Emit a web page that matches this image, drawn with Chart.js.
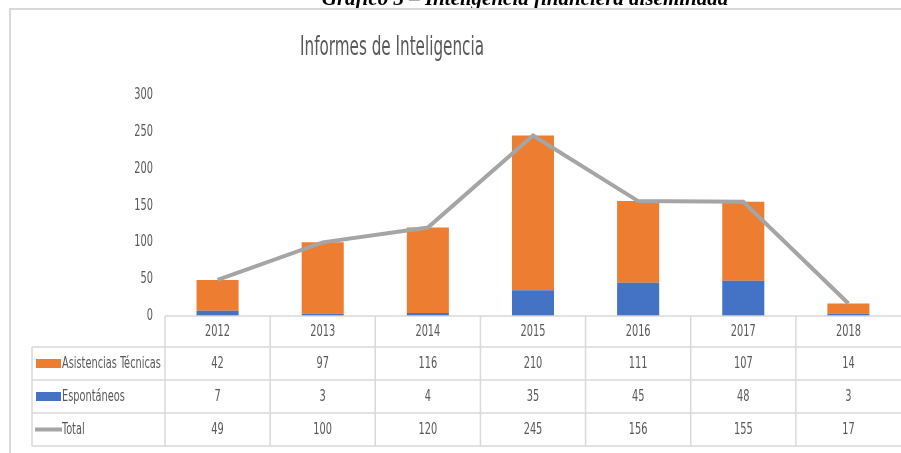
<!DOCTYPE html>
<html lang="es">
<head>
  <meta charset="UTF-8">
  <title>Informes de Inteligencia</title>
  <script src="https://cdn.jsdelivr.net/npm/chart.js"></script>
  <style>
    body {
      margin: 0;
      padding: 0;
      background: #ffffff;
    }
    .wrap {
      position: relative;
      width: 901px;
      height: 453px;
    }
  </style>
</head>
<body>

<div class="wrap">
  <canvas id="informesChart" width="901" height="453"></canvas>
</div>

<script>
  // === Data ===
  const years = ['2012', '2013', '2014', '2015', '2016', '2017', '2018'];
  const asistencias = [42, 97, 116, 210, 111, 107, 14];
  const espontaneos = [7, 3, 4, 35, 45, 48, 3];
  const totals = [49, 100, 120, 245, 156, 155, 17];
  const yTicks = [0, 50, 100, 150, 200, 250, 300];

  const ORANGE = '#ED7D31';
  const BLUE = '#4472C4';
  const GRAY = '#A5A5A5';
  const TEXT = '#595959';
  const LINE = '#d9d9d9';
  const NARROW = '"Liberation Sans Narrow", "DejaVu Sans Condensed", sans-serif';

  // condensed text, like the Office font of the original
  function txt(ctx, s, x, y, align, size, sx) {
    ctx.save();
    ctx.font = size + 'px ' + NARROW;
    ctx.fillStyle = TEXT;
    ctx.textBaseline = 'middle';
    ctx.textAlign = align;
    ctx.translate(x, y);
    ctx.scale(sx || 0.68, 1);
    ctx.fillText(s, 0, 0);
    ctx.restore();
  }

  function hline(ctx, x1, x2, y) {
    ctx.beginPath();
    ctx.moveTo(x1, y);
    ctx.lineTo(x2, y);
    ctx.stroke();
  }
  function vline(ctx, x, y1, y2) {
    ctx.beginPath();
    ctx.moveTo(x, y1);
    ctx.lineTo(x, y2);
    ctx.stroke();
  }

  const tablePlugin = {
    id: 'tablePlugin',
    afterDraw(chart) {
      const ctx = chart.ctx;
      const xs = chart.scales.x;
      const ys = chart.scales.y;
      const right = chart.width;

      // caption of the document (cut at the top)
      ctx.save();
      ctx.font = 'bold italic 21px "Liberation Serif", "DejaVu Serif", serif';
      ctx.fillStyle = '#000000';
      ctx.textAlign = 'center';
      ctx.textBaseline = 'alphabetic';
      ctx.fillText('Gráfico 3 – Inteligencia financiera diseminada', 525, 5);
      ctx.restore();

      // chart box border (top and left only, the rest is cut off)
      ctx.save();
      ctx.strokeStyle = LINE;
      ctx.lineWidth = 2;
      hline(ctx, 9, right + 2, 9);
      vline(ctx, 10, 9, chart.height);
      ctx.restore();

      // title
      txt(ctx, 'Informes de Inteligencia', 392, 48, 'center', 26, 0.65);

      // y tick labels
      ys.ticks.forEach(t => {
        txt(ctx, String(t.value), 153, ys.getPixelForValue(t.value), 'right', 16);
      });

      // data table
      const rows = [ys.bottom, 347, 380, 413, 446];
      ctx.save();
      ctx.strokeStyle = LINE;
      ctx.lineWidth = 1.5;
      hline(ctx, xs.left, right + 2, rows[0]);
      for (let r = 1; r < rows.length; r++) hline(ctx, 32, right + 2, rows[r]);
      vline(ctx, 32, rows[1], rows[4]);
      vline(ctx, xs.left, rows[0], rows[4]);
      for (let i = 0; i < years.length - 1; i++) {
        const b = (xs.getPixelForValue(i) + xs.getPixelForValue(i + 1)) / 2;
        vline(ctx, b, rows[0], rows[4]);
      }
      ctx.restore();

      const mid = r => (rows[r] + rows[r + 1]) / 2;
      const series = [asistencias, espontaneos, totals];
      years.forEach((yr, i) => {
        const cx = xs.getPixelForValue(i);
        txt(ctx, yr, cx, mid(0), 'center', 16);
        series.forEach((arr, r) => {
          txt(ctx, String(arr[i]), cx, mid(r + 1), 'center', 16);
        });
      });

      // legend keys in the row headers
      ctx.save();
      ctx.fillStyle = ORANGE;
      ctx.fillRect(36, mid(1) - 4.5, 25, 9);
      ctx.fillStyle = BLUE;
      ctx.fillRect(36, mid(2) - 4.5, 25, 9);
      ctx.strokeStyle = GRAY;
      ctx.lineWidth = 4;
      hline(ctx, 35, 62, mid(3));
      ctx.restore();
      txt(ctx, 'Asistencias Técnicas', 62, mid(1), 'left', 16);
      txt(ctx, 'Espontáneos', 62, mid(2), 'left', 16);
      txt(ctx, 'Total', 62, mid(3), 'left', 16);
    }
  };

  // === Informes Chart ===
  const ctxInformes = document.getElementById('informesChart').getContext('2d');
  const informesChart = new Chart(ctxInformes, {
    data: {
      labels: years,
      datasets: [
        {
          type: 'line',
          label: 'Total',
          data: totals,
          borderColor: GRAY,
          backgroundColor: GRAY,
          borderWidth: 4,
          pointRadius: 0,
          tension: 0,
          order: 0
        },
        {
          type: 'bar',
          label: 'Espontáneos',
          data: espontaneos,
          backgroundColor: BLUE,
          stack: 'informes',
          categoryPercentage: 0.8,
          barPercentage: 0.5,
          order: 1
        },
        {
          type: 'bar',
          label: 'Asistencias Técnicas',
          data: asistencias,
          backgroundColor: ORANGE,
          stack: 'informes',
          categoryPercentage: 0.8,
          barPercentage: 0.5,
          order: 1
        }
      ]
    },
    options: {
      responsive: false,
      animation: false,
      layout: {
        padding: { left: 0, right: 0, top: 95, bottom: 137 }
      },
      plugins: {
        legend: { display: false },
        title: { display: false },
        tooltip: { enabled: false }
      },
      scales: {
        x: {
          display: false,
          stacked: true
        },
        y: {
          stacked: true,
          min: yTicks[0],
          max: yTicks[yTicks.length - 1],
          ticks: { display: false, stepSize: yTicks[1] - yTicks[0] },
          grid: { display: false },
          border: { display: false },
          afterFit(s) { s.width = 165; }
        }
      }
    },
    plugins: [tablePlugin]
  });
</script>

</body>
</html>
